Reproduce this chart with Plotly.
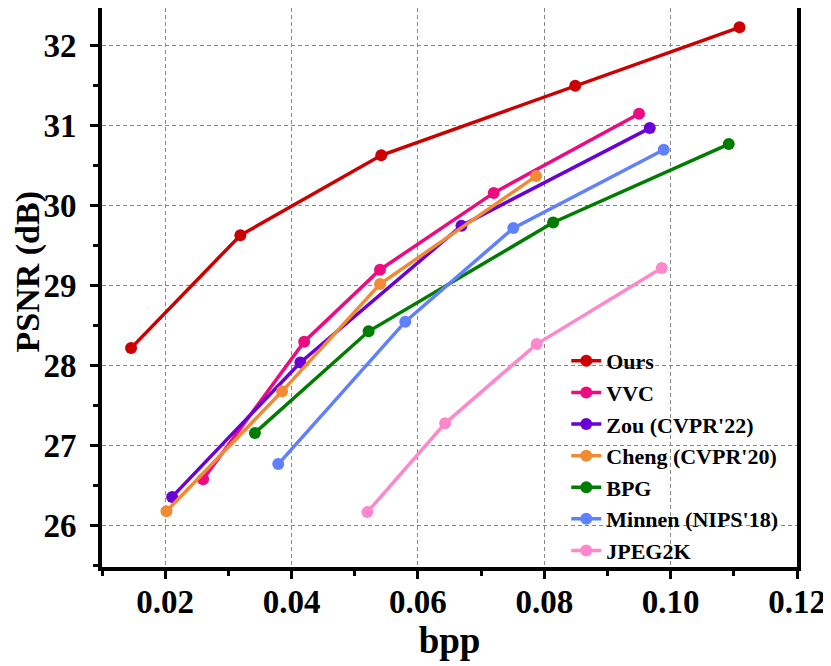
import plotly.graph_objects as go

# dados (bpp x PSNR)
metodos = ["Ours", "VVC", "Zou (CVPR'22)", "Cheng (CVPR'20)", "BPG", "Minnen (NIPS'18)", "JPEG2K"]

ours_bpp = [0.0146, 0.0319, 0.0542, 0.0849, 0.1109]
ours_psnr = [28.22, 29.63, 30.63, 31.50, 32.23]

vvc_bpp = [0.0260, 0.0420, 0.0540, 0.0720, 0.0950]
vvc_psnr = [26.58, 28.30, 29.20, 30.16, 31.15]

zou_bpp = [0.0211, 0.0414, 0.0669, 0.0967]
zou_psnr = [26.36, 28.04, 29.75, 30.97]

cheng_bpp = [0.0202, 0.0385, 0.0540, 0.0787]
cheng_psnr = [26.18, 27.68, 29.02, 30.37]

bpg_bpp = [0.0342, 0.0522, 0.0814, 0.1092]
bpg_psnr = [27.16, 28.43, 29.79, 30.77]

minnen_bpp = [0.0379, 0.0580, 0.0751, 0.0989]
minnen_psnr = [26.77, 28.55, 29.72, 30.70]

jpeg_bpp = [0.0520, 0.0643, 0.0788, 0.0986]
jpeg_psnr = [26.17, 27.28, 28.27, 29.22]

cores = ["#CC0000", "#EE0A80", "#6B00D7", "#F08A33", "#007D00", "#6080FF", "#FF88CC"]

series = [
    (ours_bpp, ours_psnr),
    (vvc_bpp, vvc_psnr),
    (zou_bpp, zou_psnr),
    (cheng_bpp, cheng_psnr),
    (bpg_bpp, bpg_psnr),
    (minnen_bpp, minnen_psnr),
    (jpeg_bpp, jpeg_psnr),
]

fonte = "Liberation Serif"

fig = go.Figure()
for nome, cor, (x, y) in zip(metodos, cores, series):
    fig.add_trace(go.Scatter(
        x=x, y=y, name=nome, mode="lines+markers",
        line=dict(color=cor, width=3.5),
        marker=dict(color=cor, size=12),
    ))

eixo = dict(
    showline=True, linecolor="black", linewidth=4, mirror=True,
    ticks="outside", ticklen=8, tickwidth=3, tickcolor="black",
    showgrid=True, gridcolor="#888888", gridwidth=1, griddash="4px,3px",
    zeroline=False, automargin=False,
    tickfont=dict(family=fonte, size=33, color="black", weight="bold"),
)

fig.update_xaxes(
    **eixo, range=[0.01, 0.12], dtick=0.02, tick0=0.02, tickformat=".2f", ticklabelstandoff=-6,
    minor=dict(ticks="outside", ticklen=5, tickwidth=3, tickcolor="black", dtick=0.01, tick0=0.01, showgrid=False),
    title=dict(text="bpp", font=dict(family=fonte, size=37, color="black", weight="bold"), standoff=0),
)
fig.update_yaxes(
    **eixo, range=[25.484, 32.471], dtick=1, tick0=26, ticklabelstandoff=7,
    minor=dict(ticks="outside", ticklen=5, tickwidth=3, tickcolor="black", dtick=0.5, tick0=25.5, showgrid=False),
)

# titulo do eixo y como anotacao pra ficar mais perto da borda
fig.add_annotation(
    text="PSNR (dB)", textangle=-90, showarrow=False,
    xref="paper", yref="paper", x=0, y=0.5, xanchor="center", yanchor="middle",
    xshift=-75, yshift=16,
    font=dict(family=fonte, size=34, color="black", weight="bold"),
)

# a pagina tem margem de 8px no body, por isso a figura fica um pouco menor
fig.update_layout(
    width=823, height=658,
    margin=dict(l=94, r=34, t=0, b=99),
    plot_bgcolor="white", paper_bgcolor="white",
    legend=dict(
        x=0.668, y=0.406, xanchor="left", yanchor="top",
        bgcolor="rgba(0,0,0,0)",
        font=dict(family=fonte, size=22, color="black", weight="bold"),
    ),
)

fig.write_html("out.html")
